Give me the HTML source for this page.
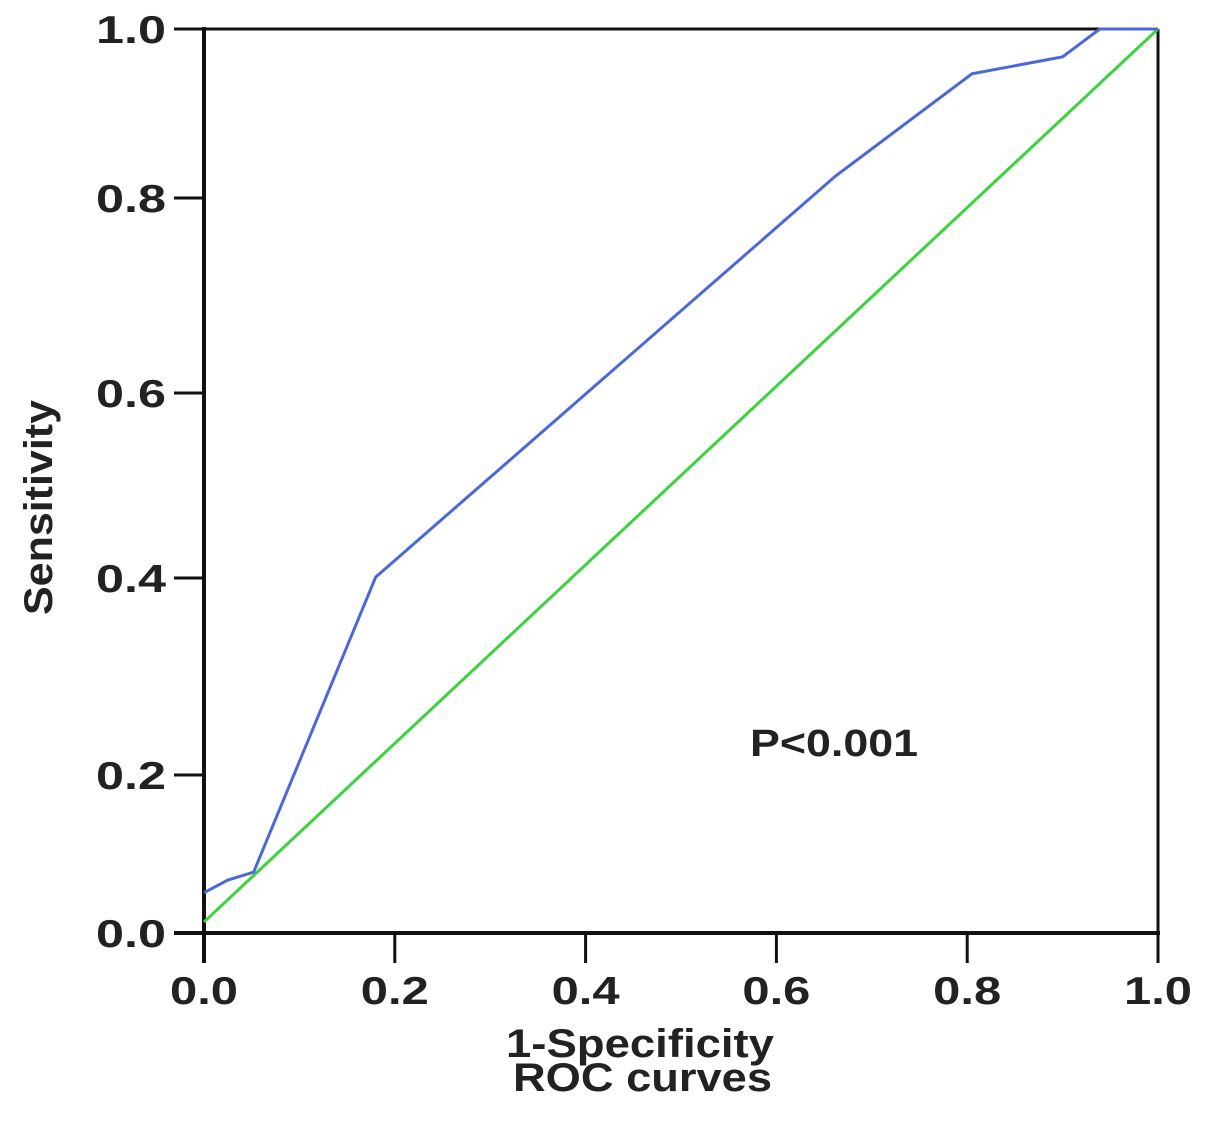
<!DOCTYPE html>
<html><head><meta charset="utf-8"><style>
html,body{margin:0;padding:0;background:#fff;}
svg{display:block;}
text{font-family:"Liberation Sans",Arial,sans-serif;font-weight:bold;fill:#222;}
</style></head><body>
<svg id="chart" width="1205" height="1133" viewBox="0 0 1205 1133">
<g id="frame"></g><g id="series"></g><g id="labels"></g>
</svg>
<script>
const xTicks=[0,0.2,0.4,0.6,0.8,1.0];
const xTickLabels=["0.0","0.2","0.4","0.6","0.8","1.0"];
const yTicks=[0,0.2,0.4,0.6,0.8,1.0];
const yTickLabels=["0.0","0.2","0.4","0.6","0.8","1.0"];
const rocFpr=[0,0.025,0.052,0.180,0.662,0.805,0.900,0.939,1.0];
const rocTpr=[0.051,0.067,0.077,0.401,0.826,0.947,0.967,1.0,1.0];
const refFpr=[0,1];
const refTpr=[0.014,1];
const pLabel="P<0.001";

const NS="http://www.w3.org/2000/svg";
const L=204,R=1158;
const yTickPx=[933,775,578,393,198,29];
function xs(v){return L+(R-L)*v;}
function ys(v){
  if(v<=0)return yTickPx[0]+(yTickPx[1]-yTickPx[0])*v/0.2;
  for(let i=0;i<yTicks.length-1;i++){
    if(v<=yTicks[i+1]||i===yTicks.length-2){
      const t=(v-yTicks[i])/(yTicks[i+1]-yTicks[i]);
      return yTickPx[i]+(yTickPx[i+1]-yTickPx[i])*t;
    }
  }
}
function mk(tag,attrs,parent){const e=document.createElementNS(NS,tag);for(const k in attrs)e.setAttribute(k,attrs[k]);parent.appendChild(e);return e;}
const frame=document.getElementById('frame'),series=document.getElementById('series'),labels=document.getElementById('labels');
const T=ys(1),B=ys(0);
let e;
e=mk('line',{x1:L,y1:T,x2:R,y2:T,stroke:'#111','stroke-width':3},frame);


e=mk('line',{x1:R,y1:T,x2:R,y2:B,stroke:'#111','stroke-width':3},frame);


e=mk('line',{x1:L,y1:T-2,x2:L,y2:B+30,stroke:'#111','stroke-width':4},frame);


e=mk('line',{x1:174,y1:B,x2:R+2,y2:B,stroke:'#111','stroke-width':4},frame);


yTicks.forEach((v,i)=>{
  const y=ys(v);
  e=mk('line',{x1:174,y1:y,x2:L,y2:y,stroke:'#111','stroke-width':3},frame);
  
  
  e=mk('text',{x:96,y:y+14,'font-size':39,textLength:70,lengthAdjust:'spacingAndGlyphs'},labels);
  e.textContent=yTickLabels[i];
  
  
});
xTicks.forEach((v,i)=>{
  const x=xs(v);
  e=mk('line',{x1:x,y1:B,x2:x,y2:B+30,stroke:'#111','stroke-width':3},frame);
  
  
  e=mk('text',{x:x-34,y:1004,'font-size':39,textLength:68,lengthAdjust:'spacingAndGlyphs'},labels);
  e.textContent=xTickLabels[i];
  
  
});
e=mk('polyline',{points:refFpr.map((v,i)=>xs(v)+','+ys(refTpr[i])).join(' '),fill:'none',stroke:'#3cd43c','stroke-width':3},series);


e=mk('polyline',{points:rocFpr.map((v,i)=>xs(v)+','+Math.max(T,ys(rocTpr[i]))).join(' '),fill:'none',stroke:'#4a68d8','stroke-width':3},series);


e=mk('text',{x:750,y:756,'font-size':38,textLength:168,lengthAdjust:'spacingAndGlyphs'},labels);
e.textContent=pLabel;


e=mk('text',{x:506,y:1057,'font-size':40,textLength:268,lengthAdjust:'spacingAndGlyphs'},labels);
e.textContent='1-Specificity';


e=mk('text',{x:513,y:1091,'font-size':40,textLength:259,lengthAdjust:'spacingAndGlyphs'},labels);
e.textContent='ROC curves';


e=mk('text',{x:-107,y:0,'font-size':40,textLength:215,lengthAdjust:'spacingAndGlyphs',transform:'translate(52,508) rotate(-90)'},labels);
e.textContent='Sensitivity';


</script>
</body></html>
